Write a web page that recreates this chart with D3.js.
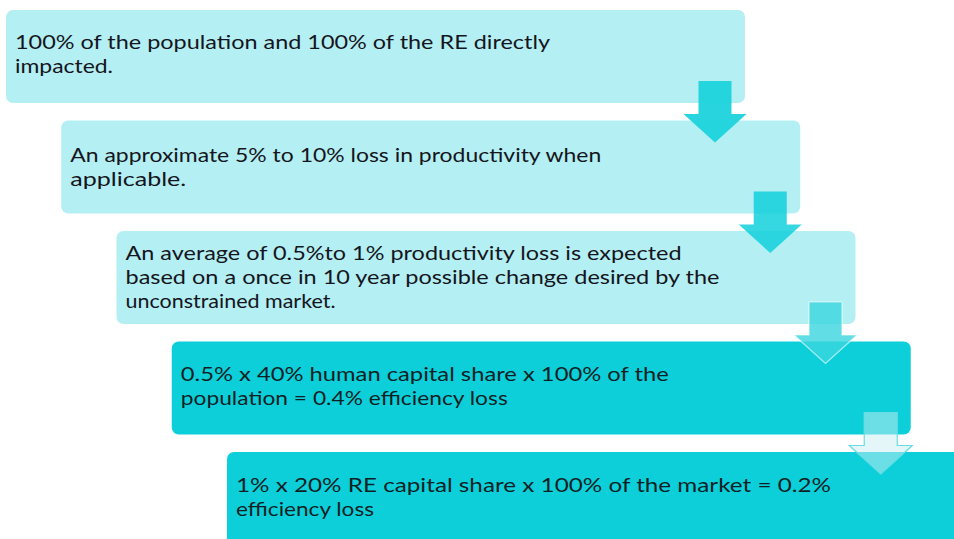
<!DOCTYPE html>
<html>
<head>
<meta charset="utf-8">
<script src="https://cdn.jsdelivr.net/npm/d3@7"></script>
<style>
  html, body { margin: 0; padding: 0; background: #ffffff; overflow: hidden; }
  svg { display: block; }
</style>
</head>
<body>
<svg id="chart" width="954" height="539"></svg>
<script>
// ---- data ----
const steps = [0, 1, 2, 3, 4];
const stepLines = [
  ["100% of the population and 100% of the RE directly", "impacted."],
  ["An approximate 5% to 10% loss in productivity when", "applicable."],
  ["An average  of 0.5%to 1% productivity loss is expected", "based on a once in 10 year possible change  desired by the", "unconstrained market."],
  ["0.5% x 40% human  capital share x 100% of the", "population = 0.4% efficiency loss"],
  ["1% x 20% RE capital share x 100% of the market = 0.2%", "efficiency loss"]
];
const arrows = [0, 1, 2, 3];

// ---- styles / layout ----
const boxFill = ["#b3eff3", "#b3eff3", "#b3eff3", "#0ccfd9", "#0ccfd9"];
const arrowFill = ["#1cd3dc", "#12d0da", "#3ad6de", "#ccedf1"];
const arrowOpacity = [0.95, 0.85, 0.8, 0.5];
const arrowStroke = ["none", "none", "rgba(255,255,255,0.6)", "#6adde3"];
// measured widths of each text line (px)
const lineWidths = [
  [535, 98],
  [531, 116],
  [556, 594, 210],
  [488, 327],
  [595, 138]
];
const firstBaseline = [39, 41, 29, 39, 40];

const svg = d3.select("#chart");
const x = d3.scaleLinear().domain([0, 4]).range([6, 227]);
const y = d3.scaleLinear().domain([0, 4]).range([10, 452]);
const boxW = 739, boxH = 93;

// boxes
const g = svg.append("g");
steps.forEach(i => {
  g.append("rect")
    .attr("x", x(i)).attr("y", y(i))
    .attr("width", boxW).attr("height", boxH)
    .attr("rx", 7).attr("ry", 7)
    .attr("fill", boxFill[i]);
});

// arrows (drawn over boxes)
const shaftW = 33, headW = 63;
arrows.forEach(i => {
  const cx = x(i) + boxW - 30;
  const bottom = y(i) + boxH;
  const top = bottom - 22, headY = bottom + 11, tip = y(i + 1) + 22;
  const pts = [
    [cx - shaftW / 2, top], [cx + shaftW / 2, top], [cx + shaftW / 2, headY],
    [cx + headW / 2, headY], [cx, tip], [cx - headW / 2, headY],
    [cx - shaftW / 2, headY]
  ];
  g.append("path")
    .attr("d", d3.line()(pts) + "Z")
    .attr("fill", arrowFill[i])
    .attr("fill-opacity", arrowOpacity[i])
    .attr("stroke", arrowStroke[i])
    .attr("stroke-width", 1.2);
});

// text, one element per line
steps.forEach(i => {
  stepLines[i].forEach((line, j) => {
    g.append("text")
      .attr("font-family", "Lato, 'Open Sans', sans-serif")
      .attr("font-size", 20)
      .attr("fill", i >= 3 ? "#0d1f24" : "#151520")
      .attr("x", x(i) + 9)
      .attr("y", y(i) + firstBaseline[i] + j * 24)
      .attr("textLength", lineWidths[i][j])
      .attr("lengthAdjust", "spacingAndGlyphs")
      .text(line);
  });
});
</script>
</body>
</html>
